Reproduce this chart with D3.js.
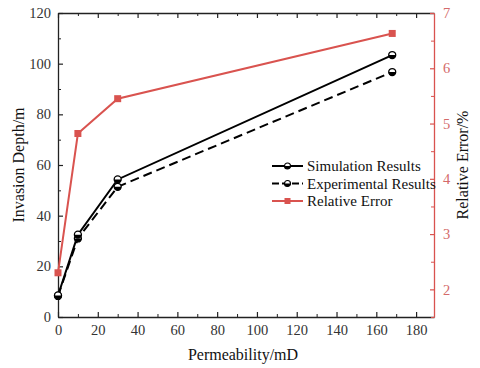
<!DOCTYPE html>
<html>
<head>
<meta charset="utf-8">
<script src="https://cdn.jsdelivr.net/npm/d3@7"></script>
<style>
  body { margin: 0; background: #fff; }
</style>
</head>
<body>
<div id="chart"></div>
<script>
// data
const permeability = [0, 10, 30, 168];
const simulation = [8.5, 32.5, 54.3, 103.4];
const experimental = [8.3, 31.0, 51.4, 96.7];
const relativeError = [2.3, 4.82, 5.45, 6.63];

const xTicks = [0, 20, 40, 60, 80, 100, 120, 140, 160, 180];
const yTicks = [0, 20, 40, 60, 80, 100, 120];
const y2Ticks = [2, 3, 4, 5, 6, 7];

const width = 480, height = 368;
const margin = { top: 13, right: 46, bottom: 51, left: 58 };
const red = "#d9534f";
const serif = "'Liberation Serif', 'Times New Roman', serif";

const svg = d3.select("#chart").append("svg")
  .attr("width", width).attr("height", height)
  .attr("font-family", serif);

const x = d3.scaleLinear().domain([0, 189]).range([margin.left, width - margin.right]);
const y = d3.scaleLinear().domain([0, 120]).range([height - margin.bottom, margin.top]);
const y2 = d3.scaleLinear().domain([1.5, 7]).range([height - margin.bottom, margin.top]);

// minor ticks
const xMinor = d3.range(10, 189, 20);
const yMinor = d3.range(10, 120, 20);
const y2Minor = d3.range(1.5, 7, 1);

function styleAxis(g, col) {
  g.attr("font-family", serif);
  g.select(".domain").attr("stroke", col).attr("stroke-width", 1.3);
  g.selectAll(".tick line").attr("stroke", col).attr("stroke-width", 1.2);
  g.selectAll(".tick text").attr("fill", col === red ? "#d46a6a" : "#333")
    .attr("font-size", "14.5px").attr("font-family", serif);
}

// bottom axis
svg.append("g").attr("transform", `translate(0,${y.range()[0]})`)
  .call(d3.axisBottom(x).tickValues(xTicks).tickSizeInner(-5).tickSizeOuter(0).tickPadding(8))
  .call(g => styleAxis(g, "#222"));
svg.append("g").attr("transform", `translate(0,${y.range()[0]})`)
  .call(d3.axisBottom(x).tickValues(xMinor).tickSizeInner(-3).tickSizeOuter(0).tickFormat(""))
  .call(g => { g.select(".domain").remove(); g.selectAll("line").attr("stroke", "#222"); });

// top axis
svg.append("g").attr("transform", `translate(0,${margin.top})`)
  .call(d3.axisTop(x).tickValues(xTicks).tickSizeInner(-5).tickSizeOuter(0).tickFormat(""))
  .call(g => styleAxis(g, "#222"));
svg.append("g").attr("transform", `translate(0,${margin.top})`)
  .call(d3.axisTop(x).tickValues(xMinor).tickSizeInner(-3).tickSizeOuter(0).tickFormat(""))
  .call(g => { g.select(".domain").remove(); g.selectAll("line").attr("stroke", "#222"); });

// left axis
svg.append("g").attr("transform", `translate(${margin.left},0)`)
  .call(d3.axisLeft(y).tickValues(yTicks).tickSizeInner(-5).tickSizeOuter(0).tickPadding(7))
  .call(g => styleAxis(g, "#222"));
svg.append("g").attr("transform", `translate(${margin.left},0)`)
  .call(d3.axisLeft(y).tickValues(yMinor).tickSizeInner(-3).tickSizeOuter(0).tickFormat(""))
  .call(g => { g.select(".domain").remove(); g.selectAll("line").attr("stroke", "#222"); });

// right axis
svg.append("g").attr("transform", `translate(${width - margin.right},0)`)
  .call(d3.axisRight(y2).tickValues(y2Ticks).tickFormat(d3.format("d"))
    .tickSizeInner(-4).tickSizeOuter(0).tickPadding(9))
  .call(g => styleAxis(g, red));
svg.append("g").attr("transform", `translate(${width - margin.right},0)`)
  .call(d3.axisRight(y2).tickValues(y2Minor).tickSizeInner(-3).tickSizeOuter(0).tickFormat(""))
  .call(g => { g.select(".domain").remove(); g.selectAll("line").attr("stroke", red); });

// axis titles
svg.append("text").attr("x", 243).attr("y", 360).attr("text-anchor", "middle")
  .attr("font-size", "16px").attr("fill", "#111").text("Permeability/mD");
svg.append("text").attr("transform", `translate(24,165) rotate(-90)`).attr("text-anchor", "middle")
  .attr("font-size", "16px").attr("fill", "#111").text("Invasion Depth/m");
svg.append("text").attr("transform", `translate(468,165) rotate(-90)`).attr("text-anchor", "middle")
  .attr("font-size", "16px").attr("fill", "#111").text("Relative Error/%");

// series
const lineY = d3.line().x((d, i) => x(permeability[i])).y(d => y(d));
const lineY2 = d3.line().x((d, i) => x(permeability[i])).y(d => y2(d));

svg.append("path").datum(relativeError).attr("d", lineY2)
  .attr("fill", "none").attr("stroke", red).attr("stroke-width", 2);
svg.append("g").selectAll("rect").data(relativeError).join("rect")
  .attr("x", (d, i) => x(permeability[i]) - 3.5).attr("y", d => y2(d) - 3.5)
  .attr("width", 7).attr("height", 7).attr("fill", red);

svg.append("path").datum(experimental).attr("d", lineY)
  .attr("fill", "none").attr("stroke", "#000").attr("stroke-width", 2).attr("stroke-dasharray", "9,5");
svg.append("path").datum(simulation).attr("d", lineY)
  .attr("fill", "none").attr("stroke", "#000").attr("stroke-width", 2);

const halfCircle = d3.arc().innerRadius(0).outerRadius(3.5).startAngle(Math.PI / 2).endAngle(Math.PI * 1.5);

function markers(data) {
  const g = svg.append("g").selectAll("g").data(data).join("g")
    .attr("transform", (d, i) => `translate(${x(permeability[i])},${y(d)})`);
  g.append("circle").attr("r", 3.5).attr("fill", "#fff").attr("stroke", "#000").attr("stroke-width", 1.3);
  g.append("path").attr("d", halfCircle).attr("fill", "#000");
}
markers(experimental);
markers(simulation);

// legend
const legend = [
  { name: "Simulation Results", color: "#000", dash: null, mark: "circle" },
  { name: "Experimental Results", color: "#000", dash: "7,3", mark: "circle" },
  { name: "Relative Error", color: red, dash: null, mark: "square" }
];
const lg = svg.append("g").selectAll("g").data(legend).join("g")
  .attr("transform", (d, i) => `translate(272,${166 + i * 17.5})`);
lg.append("line").attr("x1", 0).attr("x2", 31)
  .attr("stroke", d => d.color).attr("stroke-width", 2)
  .attr("stroke-dasharray", d => d.dash);
lg.filter(d => d.mark === "circle").append("circle").attr("cx", 15.5).attr("r", 3)
  .attr("fill", "#fff").attr("stroke", "#000").attr("stroke-width", 1.2);
lg.filter(d => d.mark === "circle").append("path")
  .attr("transform", "translate(15.5,0)")
  .attr("d", d3.arc().innerRadius(0).outerRadius(3).startAngle(Math.PI / 2).endAngle(Math.PI * 1.5))
  .attr("fill", "#000");
lg.filter(d => d.mark === "square").append("rect").attr("x", 12.5).attr("y", -3)
  .attr("width", 6).attr("height", 6).attr("fill", red);
lg.append("text").attr("x", 35).attr("y", 5).attr("font-size", "15px").attr("fill", "#111")
  .text(d => d.name);
</script>
</body>
</html>
